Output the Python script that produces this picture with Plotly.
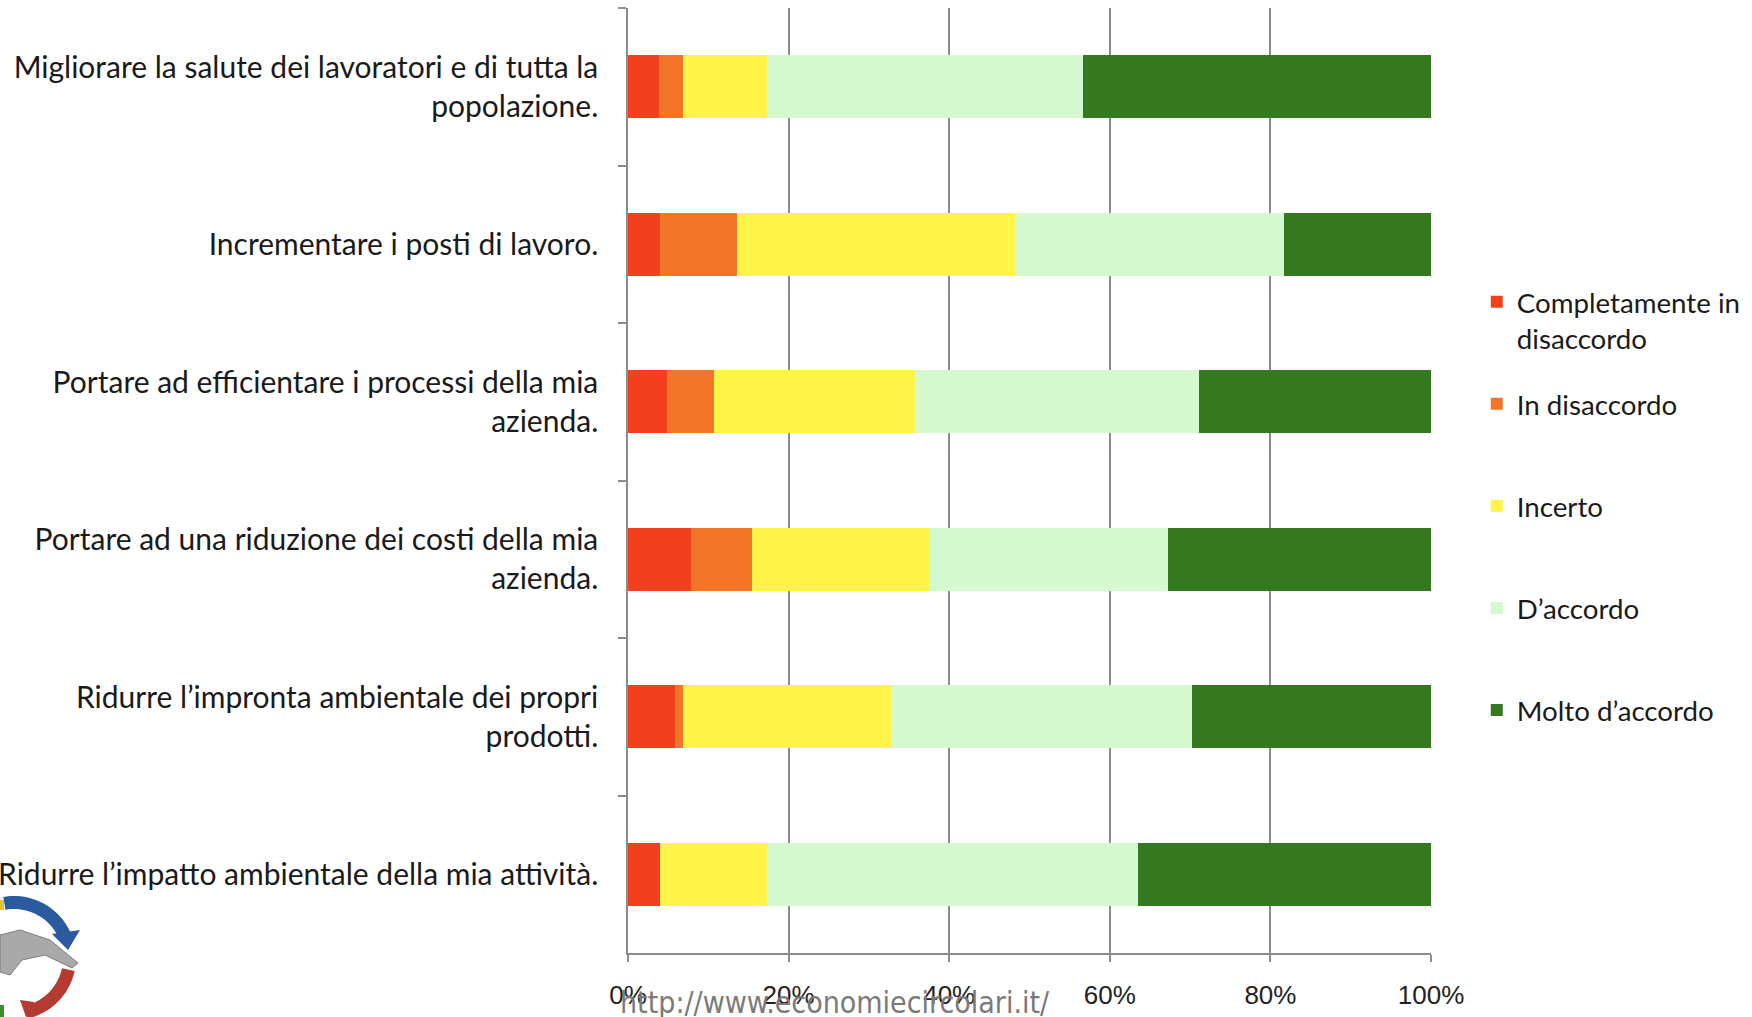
import math
import plotly.graph_objects as go

# Survey statements (top to bottom)
statements = [
    "Migliorare la salute dei lavoratori e di tutta la<br>popolazione.",
    "Incrementare i posti di lavoro.",
    "Portare ad efficientare i processi della mia<br>azienda.",
    "Portare ad una riduzione dei costi della mia<br>azienda.",
    "Ridurre l’impronta ambientale dei propri<br>prodotti.",
    "Ridurre l’impatto ambientale della mia attività.",
]

# Share of answers (%) per statement, one list per answer level
completamente_disaccordo = [3.9, 4.0, 4.8, 7.8, 5.8, 4.0]
in_disaccordo = [2.9, 9.6, 5.9, 7.6, 1.0, 0.0]
incerto = [10.5, 34.6, 25.1, 22.2, 26.0, 13.3]
d_accordo = [39.4, 33.5, 35.3, 29.7, 37.4, 46.2]
molto_d_accordo = [43.3, 18.3, 28.9, 32.7, 29.8, 36.5]

# every legend entry takes two lines so the entries are evenly spaced
series_names = ["Completamente in<br>disaccordo", "In disaccordo<br>&nbsp;",
                "Incerto<br>&nbsp;", "D’accordo<br>&nbsp;", "Molto d’accordo<br>&nbsp;"]
series_values = [completamente_disaccordo, in_disaccordo, incerto,
                 d_accordo, molto_d_accordo]
series_colors = ["#F2401F", "#F47428", "#FFF447", "#D4F9CF", "#34781F"]

x_tick_vals = [0, 20, 40, 60, 80, 100]
x_tick_text = ["0%", "20%", "40%", "60%", "80%", "100%"]

W, H = 1752, 1017
L, R, T, B = 628, 321, 8, 64
PW, PH = W - L - R, H - T - B


def px(x, y):
    """pixel position -> paper coordinates"""
    return (x - L) / PW, 1 - (y - T) / PH


def poly_path(points):
    pts = [px(x, y) for x, y in points]
    return "M " + " L ".join(f"{a:.5f},{b:.5f}" for a, b in pts) + " Z"


def ring_arc(cx, cy, r_out, r_in, a0, a1, n=24):
    outer = [(cx + r_out * math.cos(math.radians(a0 + (a1 - a0) * i / n)),
              cy - r_out * math.sin(math.radians(a0 + (a1 - a0) * i / n))) for i in range(n + 1)]
    inner = [(cx + r_in * math.cos(math.radians(a1 + (a0 - a1) * i / n)),
              cy - r_in * math.sin(math.radians(a1 + (a0 - a1) * i / n))) for i in range(n + 1)]
    return outer + inner


# small circular logo in the lower-left corner
cx, cy = 14, 958
logo_shapes = [
    dict(type="path", path=poly_path(ring_arc(cx, cy, 62, 49, 100, 22)),
         xref="paper", yref="paper", fillcolor="#2A5AA0", line=dict(width=0), layer="above"),
    dict(type="path", path=poly_path([(52, 934), (80, 930), (68, 950)]),
         xref="paper", yref="paper", fillcolor="#2A5AA0", line=dict(width=0), layer="above"),
    dict(type="path", path=poly_path(ring_arc(cx, cy, 62, 49, -12, -78)),
         xref="paper", yref="paper", fillcolor="#B43A32", line=dict(width=0), layer="above"),
    dict(type="path", path=poly_path([(34, 1002), (26, 1017), (20, 1000)]),
         xref="paper", yref="paper", fillcolor="#B43A32", line=dict(width=0), layer="above"),
    dict(type="path", path=poly_path([(0, 935), (20, 930), (50, 940), (78, 963), (72, 968),
                                      (45, 955), (22, 960), (10, 975), (0, 972)]),
         xref="paper", yref="paper", fillcolor="#A9A9A9", line=dict(color="#7d7d7d", width=1),
         layer="above"),
    dict(type="path", path=poly_path([(0, 900), (4, 900), (4, 910), (0, 910)]),
         xref="paper", yref="paper", fillcolor="#E3C23A", line=dict(width=0), layer="above"),
    dict(type="path", path=poly_path([(0, 1005), (4, 1005), (4, 1017), (0, 1017)]),
         xref="paper", yref="paper", fillcolor="#3E8E2E", line=dict(width=0), layer="above"),
]

fig = go.Figure()
for name, vals, col in zip(series_names, series_values, series_colors):
    fig.add_trace(go.Bar(
        y=statements, x=vals, name=name, orientation="h",
        marker=dict(color=col, line=dict(width=0)),
        width=0.4, legendgroup=name,
    ))

grid_col = "#8C8C8C"
fig.update_layout(
    barmode="stack",
    width=W, height=H,
    margin=dict(l=L, r=R, t=T, b=B, autoexpand=False),
    paper_bgcolor="white", plot_bgcolor="white",
    showlegend=True,
    legend=dict(
        x=1.057, y=0.715, xanchor="left", yanchor="top",
        font=dict(family="Lato, Carlito, sans-serif", size=27.7, color="#1a1a1a"),
        tracegroupgap=27, valign="top", itemwidth=30,
        bgcolor="rgba(0,0,0,0)",
    ),
    xaxis=dict(
        range=[0, 100], tickvals=x_tick_vals, ticktext=x_tick_text,
        showgrid=True, gridcolor=grid_col, gridwidth=1.5,
        showline=True, linecolor=grid_col, linewidth=1.5,
        ticks="outside", ticklen=7, tickcolor=grid_col, tickwidth=1.5,
        ticklabelstandoff=11,
        tickfont=dict(family="Liberation Sans, Arial, sans-serif", size=26, color="#222"),
        zeroline=False,
    ),
    yaxis=dict(
        categoryorder="array", categoryarray=statements,
        autorange="reversed",
        showline=True, linecolor=grid_col, linewidth=1.5,
        ticks="outside", ticklen=8, tickcolor=grid_col, tickwidth=1.5,
        tickson="boundaries", ticklabelstandoff=22,
        tickfont=dict(family="Lato, Carlito, sans-serif", size=30, color="#1a1a1a"),
        showgrid=False,
    ),
    shapes=logo_shapes,
    annotations=[dict(
        text="http://www.economiecircolari.it/",
        xref="paper", yref="paper", x=0.258, y=-0.052,
        xanchor="center", yanchor="middle", showarrow=False,
        font=dict(family="Liberation Sans Narrow, DejaVu Sans Condensed, sans-serif",
                  size=30, color="#7a7a7a"),
    )],
)

fig.write_html("out.html")
